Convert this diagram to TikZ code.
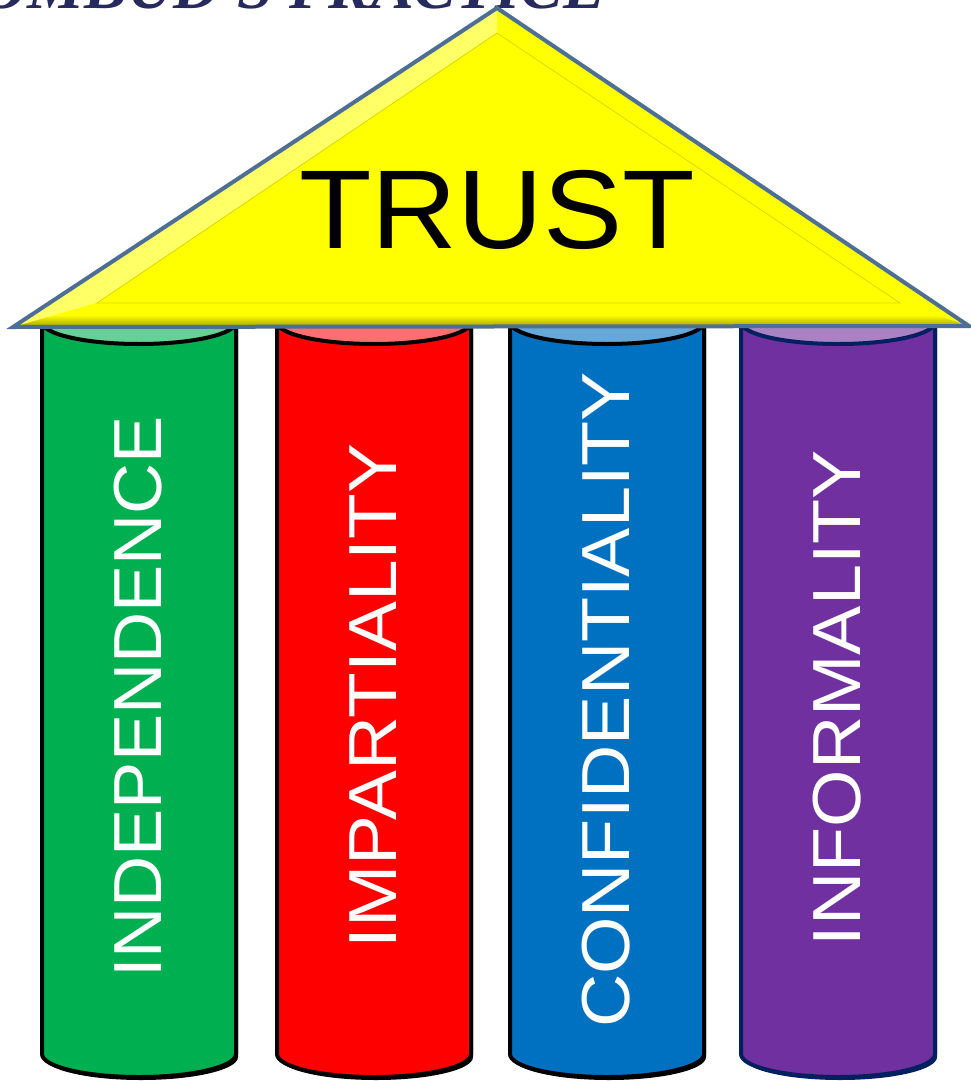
\documentclass[tikz,border=0pt]{standalone}
\usepackage{fontspec}
\setmainfont{Liberation Sans}
\newfontfamily\titlefont{Liberation Serif}
\usetikzlibrary{shadings}
\definecolor{roofblue}{HTML}{4E6F95}
\definecolor{roofyel}{HTML}{FFFF00}
\definecolor{roofolive}{HTML}{A49E00}
\definecolor{roofpale}{HTML}{FFFF66}
\definecolor{roofinner}{HTML}{DADA00}
\definecolor{navytitle}{HTML}{262A5C}
\definecolor{pgreen}{HTML}{00B050}
\definecolor{pgreenT}{HTML}{66D096}
\definecolor{pred}{HTML}{FF0000}
\definecolor{predT}{HTML}{FF6F6F}
\definecolor{pblue}{HTML}{0070C0}
\definecolor{pblueT}{HTML}{66A9D9}
\definecolor{ppurple}{HTML}{7030A0}
\definecolor{ppurpleT}{HTML}{A982C4}
\definecolor{pnavy}{HTML}{002060}
\tikzset{
  pillartext/.style={text=white, inner sep=0pt, rotate=90, font=\fontsize{68}{68}\selectfont},
  pillarbody/.style={line width=4pt, line join=round},
  roofedge/.style={draw=roofblue, line width=4pt, line join=miter},
}
\begin{document}
\begin{tikzpicture}[x=1pt,y=-1pt]
\useasboundingbox (0,0) rectangle (971,1081);

% title (clipped at the top)
\node[anchor=base east, inner sep=0pt, text=navytitle, font=\titlefont\bfseries\itshape\fontsize{64}{64}\selectfont] (title) at (606,9) {OMBUD'S PRACTICE};

% pillars
\foreach \xl/\fc/\tc/\bc/\nm in {42/pgreen/pgreenT/black/p1, 277/pred/predT/black/p2, 510/pblue/pblueT/black/p3, 741/ppurple/ppurpleT/pnavy/p4}{
  \pgfmathsetmacro{\xr}{\xl+194}
  \fill[\bc] (\xl+2,325) -- (\xl+2,1057) arc[start angle=180,end angle=360,x radius=97pt,y radius=23pt] -- (\xr+2,325) -- cycle;
  \filldraw[pillarbody, fill=\fc, draw=\bc] (\xl,322) -- (\xl,1054) arc[start angle=180,end angle=360,x radius=97pt,y radius=23pt] -- (\xr,322) -- cycle;
  \fill[\tc] (\xl+97,322) ellipse[x radius=97pt, y radius=22pt];
  \draw[pillarbody, draw=\bc] (\xl,322) arc[start angle=180,end angle=360,x radius=97pt,y radius=22pt];
  \coordinate (\nm) at (\xl+97,698);
}
\node[pillartext] (t1) at (138,697) {\scalebox{1.04}[1]{INDEPENDENCE}};
\node[pillartext] (t2) at (373,696) {\scalebox{1.1}[1]{IMPARTIALITY}};
\node[pillartext] (t3) at (606,700) {\scalebox{1.085}[1]{CONFIDENTIALITY}};
\node[pillartext] (t4) at (837,698) {\scalebox{1.085}[1]{INFORMALITY}};

% roof
\fill[roofyel] (13,327) -- (497,8) -- (969,326) -- cycle;
\fill[roofpale] (13,327) -- (497,8) -- (497,33) -- (97,303) -- cycle;
\shade[top color=roofyel, bottom color=roofolive, middle color=roofyel] (13,327) -- (97,303) -- (900,303) -- (969,326) -- cycle;
\draw[roofinner, line width=0.8pt] (97,303) -- (497,33) -- (900,303) -- cycle;
\draw[roofedge] (13,327) -- (497,8) -- (969,326) -- cycle;
\node[inner sep=0pt, font=\fontsize{112}{112}\selectfont] (trust) at (497,210) {\scalebox{1.06}[1]{TRUST}};
\end{tikzpicture}
\end{document}
